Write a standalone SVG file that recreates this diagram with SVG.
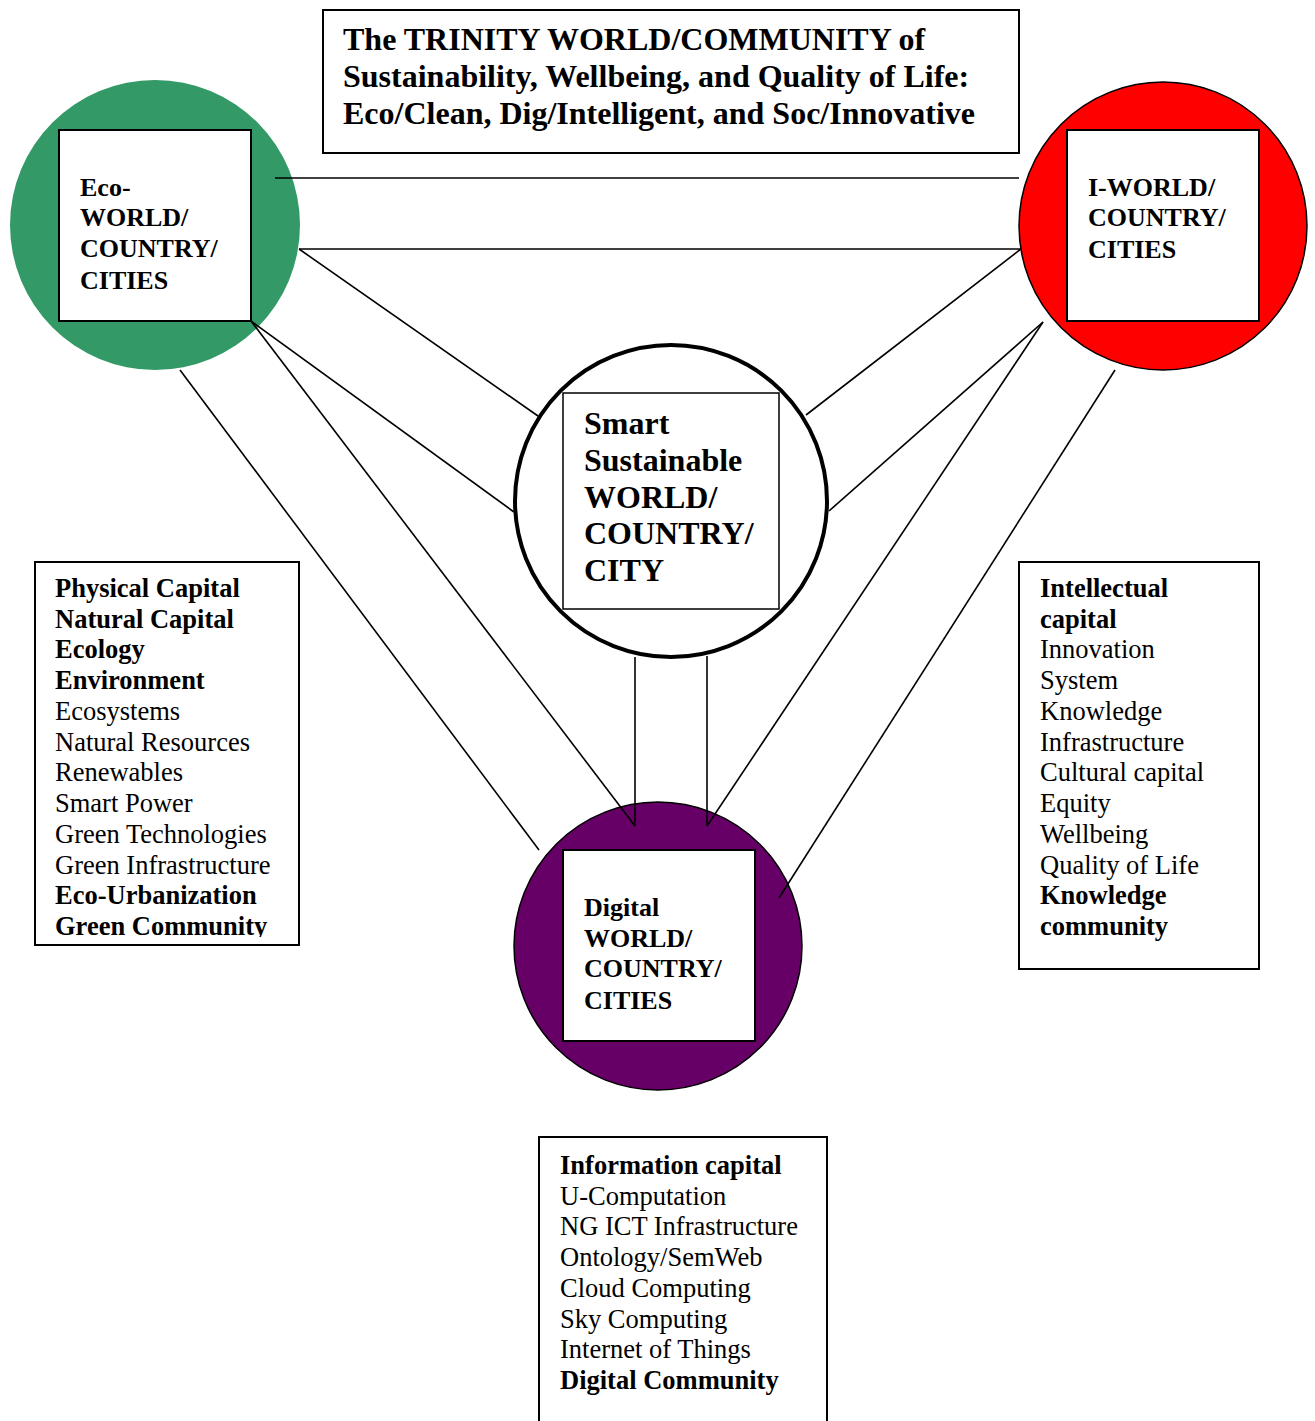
<svg xmlns="http://www.w3.org/2000/svg" width="1315" height="1421" viewBox="0 0 1315 1421">
<style>
.bx{fill:#fff;stroke:#000;stroke-width:2}
.sq{fill:#fff;stroke:#000;stroke-width:2}
.lbl{font-family:"Liberation Serif","Times New Roman",serif;font-weight:bold;font-size:26px;fill:#000}
.big{font-family:"Liberation Serif","Times New Roman",serif;font-weight:bold;font-size:32px;fill:#000}
.lst{font-family:"Liberation Serif","Times New Roman",serif;font-size:26.5px;fill:#000}
.b{font-weight:bold}
.cn{stroke:#000;stroke-width:1.6;fill:none}
</style>
<defs>
<clipPath id="clipL"><rect x="36" y="563" width="262" height="374"/></clipPath>
</defs>
<rect width="1315" height="1421" fill="#fff"/>

<g id="title">
<rect class="bx" x="323" y="10" width="696" height="143"/>
<text class="big" x="343" y="50">The TRINITY WORLD/COMMUNITY of</text>
<text class="big" x="343" y="87">Sustainability, Wellbeing, and Quality of Life:</text>
<text class="big" x="343" y="124">Eco/Clean, Dig/Intelligent, and Soc/Innovative</text>
</g>

<g id="eco-node">
<circle cx="155" cy="225" r="145" fill="#339966"/>
<rect class="sq" x="59" y="130" width="192" height="191"/>
<text class="lbl" x="80" y="196">Eco-</text>
<text class="lbl" x="80" y="226">WORLD/</text>
<text class="lbl" x="80" y="257">COUNTRY/</text>
<text class="lbl" x="80" y="289">CITIES</text>
</g>

<g id="i-node">
<circle cx="1163" cy="226" r="144" fill="#ff0000" stroke="#000" stroke-width="1.5"/>
<rect class="sq" x="1067" y="130" width="192" height="191"/>
<text class="lbl" x="1088" y="196">I-WORLD/</text>
<text class="lbl" x="1088" y="226">COUNTRY/</text>
<text class="lbl" x="1088" y="258">CITIES</text>
</g>

<g id="smart-node">
<circle cx="671" cy="501" r="156" fill="#fff" stroke="#000" stroke-width="4"/>
<rect x="563" y="393" width="216" height="216" fill="#fff" stroke="#000" stroke-width="1.5"/>
<text class="big" x="584" y="434">Smart</text>
<text class="big" x="584" y="471">Sustainable</text>
<text class="big" x="584" y="508">WORLD/</text>
<text class="big" x="584" y="544">COUNTRY/</text>
<text class="big" x="584" y="581">CITY</text>
</g>

<g id="digital-node">
<circle cx="658" cy="946" r="144" fill="#660066" stroke="#000" stroke-width="1.5"/>
<rect class="sq" x="563" y="850" width="192" height="191"/>
<text class="lbl" x="584" y="916">Digital</text>
<text class="lbl" x="584" y="947">WORLD/</text>
<text class="lbl" x="584" y="977">COUNTRY/</text>
<text class="lbl" x="584" y="1009">CITIES</text>
</g>

<g id="connectors">
<line class="cn" x1="275" y1="178" x2="1019" y2="178"/>
<line class="cn" x1="299" y1="249" x2="1021" y2="249"/>
<line class="cn" x1="299" y1="249" x2="538" y2="416"/>
<line class="cn" x1="251" y1="321" x2="514" y2="512"/>
<line class="cn" x1="251" y1="321" x2="635" y2="826"/>
<line class="cn" x1="180" y1="370" x2="539" y2="850" stroke-width="1.2"/>
<line class="cn" x1="1021" y1="249" x2="806" y2="415"/>
<line class="cn" x1="1043" y1="322" x2="829" y2="511"/>
<line class="cn" x1="1043" y1="322" x2="707" y2="826"/>
<line class="cn" x1="1115" y1="370" x2="779" y2="898"/>
<line class="cn" x1="635" y1="657" x2="635" y2="826"/>
<line class="cn" x1="707" y1="656" x2="707" y2="826"/>
</g>

<g id="eco-list">
<rect class="bx" x="35" y="562" width="264" height="383"/>
<g clip-path="url(#clipL)">
<text class="lst b" x="55" y="597">Physical Capital</text>
<text class="lst b" x="55" y="628">Natural Capital</text>
<text class="lst b" x="55" y="658">Ecology</text>
<text class="lst b" x="55" y="689">Environment</text>
<text class="lst" x="55" y="720">Ecosystems</text>
<text class="lst" x="55" y="751">Natural Resources</text>
<text class="lst" x="55" y="781">Renewables</text>
<text class="lst" x="55" y="812">Smart Power</text>
<text class="lst" x="55" y="843">Green Technologies</text>
<text class="lst" x="55" y="874">Green Infrastructure</text>
<text class="lst b" x="55" y="904">Eco-Urbanization</text>
<text class="lst b" x="55" y="935">Green Community</text>
</g>
</g>

<g id="i-list">
<rect class="bx" x="1019" y="562" width="240" height="407"/>
<text class="lst b" x="1040" y="597">Intellectual</text>
<text class="lst b" x="1040" y="628">capital</text>
<text class="lst" x="1040" y="658">Innovation</text>
<text class="lst" x="1040" y="689">System</text>
<text class="lst" x="1040" y="720">Knowledge</text>
<text class="lst" x="1040" y="751">Infrastructure</text>
<text class="lst" x="1040" y="781">Cultural capital</text>
<text class="lst" x="1040" y="812">Equity</text>
<text class="lst" x="1040" y="843">Wellbeing</text>
<text class="lst" x="1040" y="874">Quality of Life</text>
<text class="lst b" x="1040" y="904">Knowledge</text>
<text class="lst b" x="1040" y="935">community</text>
</g>

<g id="digital-list">
<path d="M539,1430 V1137 H827 V1430" fill="#fff" stroke="#000" stroke-width="2"/>
<text class="lst b" x="560" y="1174">Information capital</text>
<text class="lst" x="560" y="1205">U-Computation</text>
<text class="lst" x="560" y="1235">NG ICT Infrastructure</text>
<text class="lst" x="560" y="1266">Ontology/SemWeb</text>
<text class="lst" x="560" y="1297">Cloud Computing</text>
<text class="lst" x="560" y="1328">Sky Computing</text>
<text class="lst" x="560" y="1358">Internet of Things</text>
<text class="lst b" x="560" y="1389">Digital Community</text>
</g>
</svg>
